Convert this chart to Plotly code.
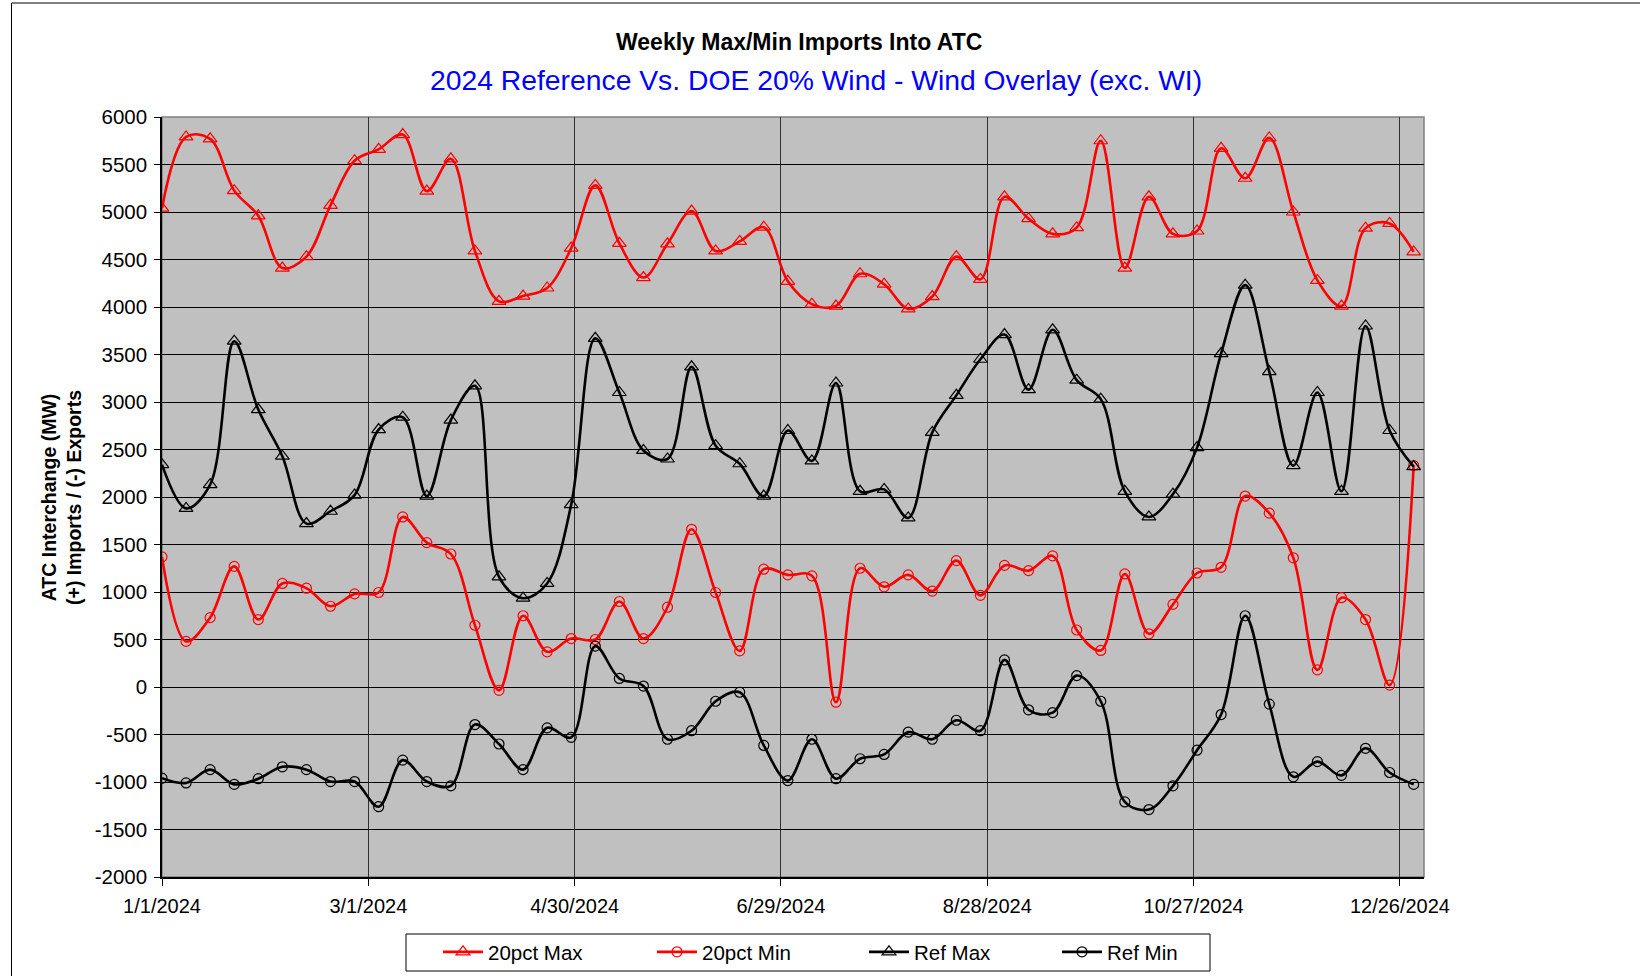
import plotly.graph_objects as go
import pandas as pd

weeks = pd.date_range("2024-01-01", periods=53, freq="7D")

pct20_max = [5040, 5790, 5770, 5225, 4960, 4410, 4530, 5070, 5540, 5660,
             5815, 5220, 5560, 4590, 4060, 4115, 4200, 4620, 5280, 4670,
             4310, 4665, 5010, 4590, 4690, 4840, 4270, 4030, 4010, 4350,
             4240, 3980, 4110, 4530, 4290, 5160, 4930, 4770, 4835, 5750,
             4410, 5160, 4770, 4800, 5670, 5355, 5780, 5000, 4280, 4010,
             4830, 4880, 4580]

pct20_min = [1370, 480, 730, 1270, 710, 1090, 1040, 850, 980, 995,
             1790, 1520, 1400, 650, -35, 750, 370, 510, 500, 900,
             510, 840, 1660, 995, 380, 1240, 1180, 1170, -160, 1250,
             1055, 1180, 1010, 1330, 965, 1280, 1225, 1380, 600, 385,
             1190, 560, 870, 1200, 1260, 2010, 1830, 1360, 180, 940,
             710, 20, 2330]

ref_max = [2340, 1880, 2130, 3640, 2920, 2430, 1720, 1850, 2020, 2710,
           2840, 2010, 2810, 3170, 1160, 935, 1090, 1920, 3670, 3100,
           2490, 2400, 3370, 2540, 2350, 2010, 2700, 2380, 3200, 2060,
           2080, 1780, 2680, 3070, 3450, 3710, 3130, 3760, 3230, 3030,
           2060, 1790, 2030, 2520, 3510, 4230, 3320, 2330, 3100, 2060,
           3800, 2700, 2320]

ref_min = [-960, -1010, -870, -1025, -965, -840, -870, -995, -995, -1260,
           -770, -995, -1040, -395, -600, -870, -430, -530, 430, 90,
           10, -550, -460, -150, -55, -615, -985, -550, -965, -755,
           -710, -475, -550, -350, -460, 285, -240, -270, 120, -150,
           -1210, -1290, -1040, -665, -290, 750, -180, -945, -785, -930,
           -645, -900, -1025]

x_ticks = ["2024-01-01", "2024-03-01", "2024-04-30", "2024-06-29",
           "2024-08-28", "2024-10-27", "2024-12-26"]
y_ticks = list(range(-2000, 6001, 500))
y_tick_labels = [str(v) for v in y_ticks]

series = [
    ("20pct Max", pct20_max, "red", "triangle-up-open", 12, 159),
    ("20pct Min", pct20_min, "red", "circle-open", 10, 157),
    ("Ref Max", ref_max, "black", "triangle-up-open", 12, 138),
    ("Ref Min", ref_min, "black", "circle-open", 10, 90),
]

FONT = "Liberation Sans, Arial, sans-serif"

fig = go.Figure()
for name, vals, color, sym, msize, lw in series:
    fig.add_trace(go.Scatter(
        x=weeks, y=vals, name=name, mode="lines+markers",
        line=dict(color=color, width=2.6, shape="spline", smoothing=1.0),
        marker=dict(symbol=sym, size=msize, color=color,
                    line=dict(color=color, width=1.2)),
        legendwidth=lw,
    ))

L, R, T, B = 162, 1424, 117, 877
W, H = 1640, 976
pw, ph = R - L, B - T


def px(x):
    return (x - L) / pw


def py(y):
    return (B - y) / ph


fig.update_layout(
    width=W, height=H,
    margin=dict(l=L, r=W - R, t=T, b=H - B, pad=0, autoexpand=False),
    paper_bgcolor="white",
    plot_bgcolor="#C0C0C0",
    font=dict(family=FONT, size=19, color="black"),
    showlegend=True,
    legend=dict(
        orientation="h", x=px(438), y=py(952), xanchor="left", yanchor="middle",
        borderwidth=0, bgcolor="rgba(0,0,0,0)",
        font=dict(family=FONT, size=20.5, color="black"),
        itemwidth=40, tracegroupgap=0,
    ),
    annotations=[
        dict(text="<b>Weekly Max/Min Imports Into ATC</b>", x=px(799), y=py(42),
             xref="paper", yref="paper", showarrow=False,
             font=dict(family=FONT, size=23, color="black"),
             xanchor="center", yanchor="middle"),
        dict(text="2024 Reference Vs. DOE 20% Wind - Wind Overlay (exc. WI)",
             x=px(816), y=py(80), xref="paper", yref="paper", showarrow=False,
             font=dict(family=FONT, size=28.3, color="blue"),
             xanchor="center", yanchor="middle"),
        dict(text="<b>ATC Interchange (MW)</b><br><b>(+) Imports / (-) Exports</b>",
             x=px(62), y=py(498), xref="paper", yref="paper", showarrow=False,
             textangle=-90, font=dict(family=FONT, size=19.5, color="black"),
             xanchor="center", yanchor="middle"),
    ],
    shapes=[
        dict(type="rect", xref="paper", yref="paper",
             x0=px(11.5), x1=px(1660), y0=py(3), y1=py(1000),
             line=dict(color="black", width=1), fillcolor="rgba(0,0,0,0)",
             layer="below"),
        dict(type="rect", xref="paper", yref="paper",
             x0=px(406), x1=px(1210), y0=py(934), y1=py(971),
             line=dict(color="black", width=1), fillcolor="white",
             layer="below"),
        dict(type="rect", xref="paper", yref="paper", x0=0, x1=1, y0=0, y1=1,
             line=dict(color="#808080", width=1.5), fillcolor="rgba(0,0,0,0)",
             layer="below"),
    ],
)

fig.update_xaxes(
    range=["2024-01-01", "2025-01-02"],
    tickvals=x_ticks, tickformat="%-m/%-d/%Y",
    showgrid=True, gridcolor="#303030", gridwidth=1,
    ticks="outside", ticklen=7, tickcolor="black",
    ticklabelstandoff=3,
    showline=True, linecolor="black", linewidth=1.5,
    zeroline=False, tickfont=dict(size=20),
)
fig.update_yaxes(
    range=[-2000, 6000], tickvals=y_ticks, ticktext=y_tick_labels,
    showgrid=True, gridcolor="black", gridwidth=1,
    ticks="outside", ticklen=6, tickcolor="black",
    ticklabelstandoff=3,
    showline=True, linecolor="black", linewidth=1.5,
    zeroline=False, tickfont=dict(size=20.5),
)

fig.write_html("out.html",
               config={"displayModeBar": False},
               post_script="document.body.style.margin='0px';")
